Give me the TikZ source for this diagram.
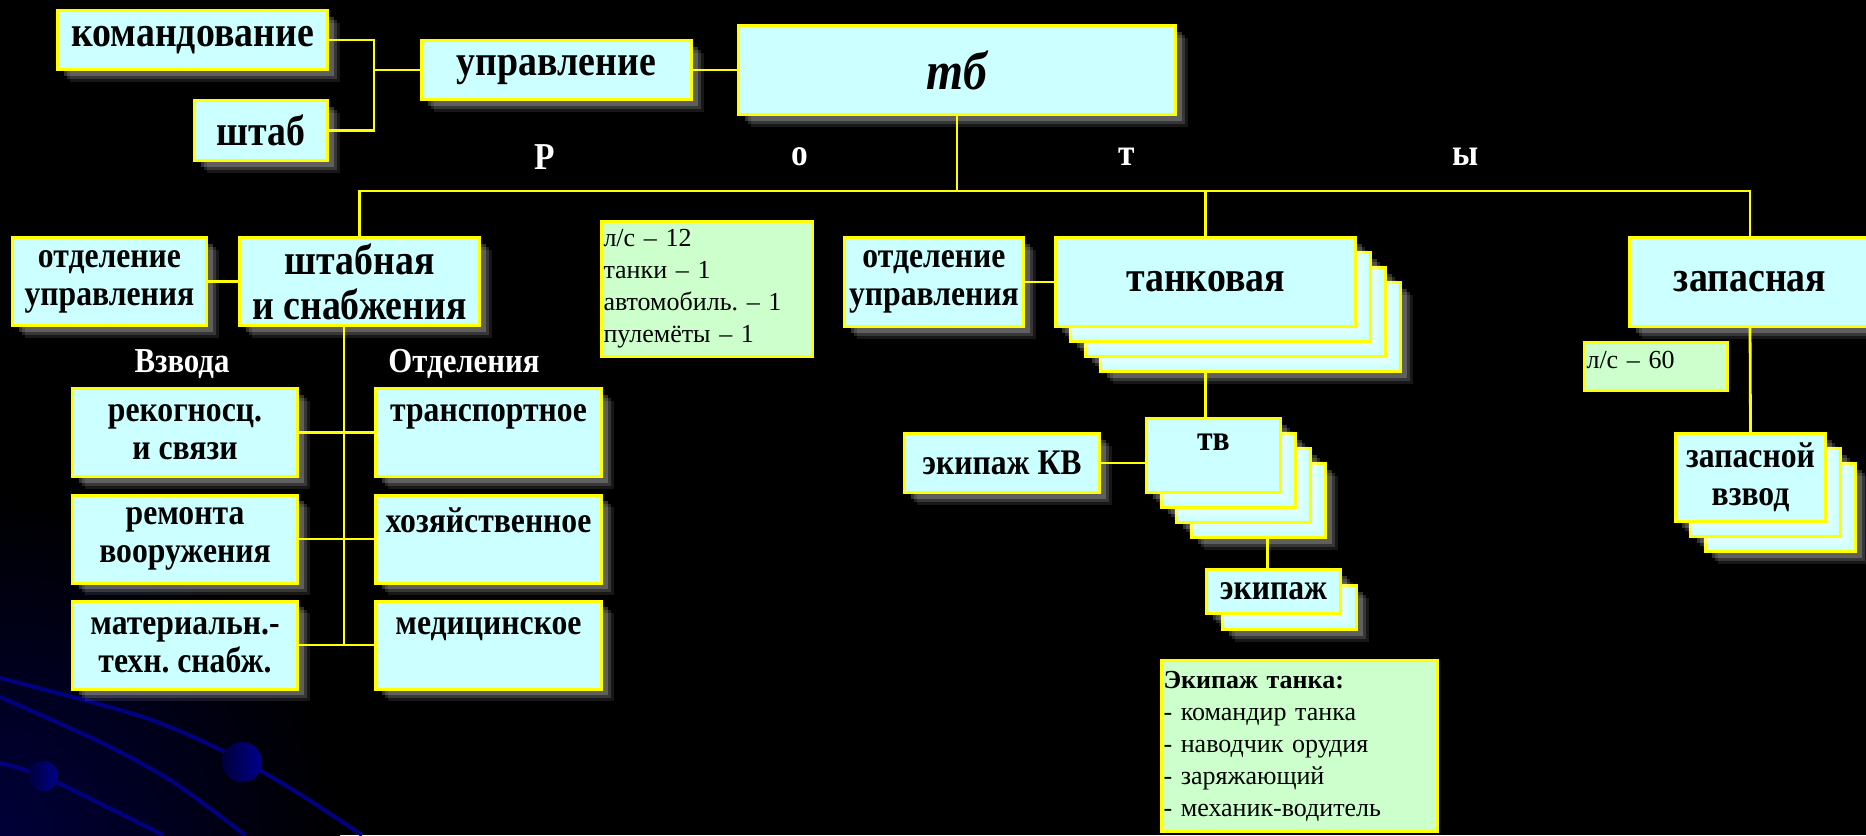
\documentclass[tikz,border=0pt]{standalone}
\usepackage{fontspec}
\setmainfont{Liberation Serif}[FakeStretch=0.88]
\newfontfamily\plainfont{Liberation Serif}
\usetikzlibrary{shadows}
\definecolor{boxcyan}{HTML}{CCFFFF}
\definecolor{notegreen}{HTML}{CCFFCC}
\definecolor{rimyellow}{HTML}{FFFF00}
\definecolor{decoblue}{HTML}{000080}
\newcommand\bigtxt{\fontsize{21.5}{22.5}\selectfont\bfseries}
\newcommand\midtxt{\fontsize{18}{19}\selectfont\bfseries}
\newcommand\notetxt{\plainfont\fontsize{13}{16}\selectfont}
\frenchspacing
\tikzset{
glow/.style={general shadow={fill=white, opacity=0.09, shadow xshift=6pt, shadow yshift=-6pt},
  general shadow={fill=white, opacity=0.14, shadow xshift=4.5pt, shadow yshift=-4.5pt},
  general shadow={fill=white, opacity=0.2, shadow xshift=3pt, shadow yshift=-3pt}}, % soft light halo
box/.style={draw=rimyellow, fill=boxcyan, line width=1.5pt, align=center, inner sep=2pt, glow}, % cyan unit box
bigbox/.style={box, font=\bigtxt}, % large caption
midbox/.style={box, font=\midtxt}, % smaller caption
note/.style={draw=rimyellow, fill=notegreen, line width=1.5pt, align=left, inner xsep=1pt, font=\notetxt}, % green note
link/.style={draw=rimyellow, line width=1.4pt}, % connector
tag/.style={text=white, font=\fontsize{17.5}{19}\selectfont\bfseries}, % white heading
deco/.style={draw=decoblue, line width=2pt}, % background swirl
}
\begin{document}
\begin{tikzpicture}[x=0.5pt, y=-0.5pt]
\useasboundingbox (0,0) rectangle (1866,835);
\fill[black] (0,0) rectangle (1866,835);
% background
\shade[inner color=decoblue!45!black, outer color=black] (0,835) circle (170pt);
\draw[deco] plot[smooth] coordinates {(0,678) (143,717) (227,753) (290,788) (362,835)};
\draw[deco] plot[smooth] coordinates {(0,697) (100,742) (173,782) (245,835)};
\draw[deco] plot[smooth] coordinates {(0,763) (43,776) (107,807) (163,835)};
\shade[left color=decoblue!45!black, right color=decoblue!90!blue] (242,762) circle (10pt);
\shade[left color=decoblue!45!black, right color=decoblue!90!blue] (43,776) circle (7.5pt);

% top
\node[bigbox, minimum width=135pt, minimum height=29.5pt] (kom) at (192.5,40) {командование};
\node[bigbox, minimum width=66.5pt, minimum height=30pt] (shtab) at (261,130.5) {штаб};
\node[bigbox, minimum width=135pt, minimum height=29.5pt] (upr) at (556.5,70) {управление};
\node[box, minimum width=218.5pt, minimum height=44.5pt, font=\fontsize{27}{30}\selectfont\bfseries\itshape] (tb) at (957,70) {тб};
\foreach \ch/\xx [count=\i] in {Р/545, о/800, т/1127, ы/1466}
  \node[tag, font=\fontsize{19}{20}\selectfont\bfseries] (w\i) at (\xx,157) {\ch};

% companies
\node[midbox, minimum width=97pt, minimum height=44pt] (otdL) at (109.5,281.5) {отделение\\управления};
\node[bigbox, minimum width=120pt, minimum height=44pt] (shtabn) at (359.5,281.5) {штабная\\и снабжения};
\node[note, text width=103.5pt, minimum height=67.5pt] (ls12) at (707,289) {л/с – 12\\танки – 1\\автомобиль. – 1\\пулемёты – 1};
\node[midbox, minimum width=89.5pt, minimum height=44.5pt] (otdM) at (934,282) {отделение\\управления};
\foreach \k in {3,2,1}
  \node[bigbox, minimum width=150pt, minimum height=44.5pt] (tank\k) at (1205.5+15*\k,282+15*\k) {};
\node[bigbox, minimum width=150pt, minimum height=44.5pt] (tank) at (1205.5,282) {танковая};
\node[bigbox, minimum width=120.5pt, minimum height=44.5pt] (zap) at (1750,282) {запасная};
\node[note, text width=69.5pt, minimum height=24pt] (ls60) at (1656,366.5) {л/с – 60\\[-9pt]~};
\foreach \k in {2,1}
  \node[midbox, minimum width=75pt, minimum height=44pt] (vzv\k) at (1750.5+15*\k,477.5+15*\k) {};
\node[midbox, minimum width=75pt, minimum height=44pt] (vzv) at (1750.5,477.5) {запасной\\взвод};

% platoons and sections
\node[tag] (tvz) at (182,364) {Взвода};
\node[tag] (totd) at (464,364) {Отделения};
\foreach \lt/\rt/\yy [count=\i] in {{рекогносц.\\и связи}/транспортное/432.5, {ремонта\\вооружения}/хозяйственное/539, {материальн.-\\техн. снабж.}/медицинское/645}{
  \node[midbox, minimum width=112.5pt, minimum height=44pt] (l\i) at (185,\yy) {\lt};
  \node[midbox, minimum width=113pt, minimum height=44pt] (r\i) at (488.5,\yy) {\rt\\~};
  \draw[link] (l\i) -- (r\i);
}
\coordinate (sp) at (344,327);
\draw[link] (sp) -- (sp |- r3.west);

% tank company
\node[midbox, minimum width=97.5pt, minimum height=29.5pt] (kv) at (1002,463) {экипаж КВ};
\foreach \k in {3,2,1}
  \node[midbox, minimum width=67pt, minimum height=37pt] (tv\k) at (1213.5+15*\k,455.5+15*\k) {};
\node[midbox, minimum width=67pt, minimum height=37pt] (tv) at (1213.5,455.5) {тв\\[-6pt]~};
\node[midbox, minimum width=67pt, minimum height=22pt] (ek1) at (1289.5,607.5) {};
\node[midbox, minimum width=67pt, minimum height=22pt] (ek) at (1273.5,591.5) {экипаж};
\node[note, text width=136pt, minimum height=85.5pt] (crew) at (1299.5,746) {{\bfseries Экипаж танка:}\\- командир танка\\- наводчик орудия\\- заряжающий\\- механик-водитель};

% connectors
\coordinate (bus) at (0,191);
\draw[link] (kom.east) -- ++(45,0) |- (shtab.east);
\draw[link] (upr.west) -- ++(-46,0);
\draw[link] (upr) -- (tb);
\draw[link] (tb.south) -- (tb.south |- bus);
\draw[link] (shtabn.north) |- (bus -| zap.north) -- (zap.north);
\draw[link] (tank.north |- bus) -- (tank.north);
\draw[link] (otdL) -- (shtabn);
\draw[link] (otdM) -- (tank);
\draw[link] (zap.south) -- (vzv.north);
\draw[link] (tank.north |- tank3.south) -- (tank.north |- tv.north);
\draw[link] (kv.east) -- (kv.east -| tv.west);
\draw[link] ([xshift=-3pt]ek.north |- tv3.south) -- ([xshift=-3pt]ek.north);
\end{tikzpicture}
\end{document}
